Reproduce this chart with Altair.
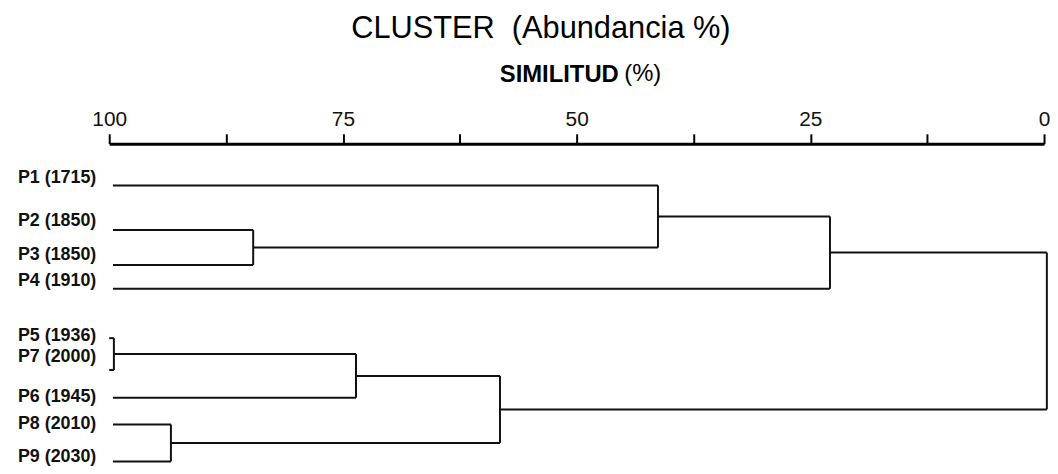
import altair as alt
import pandas as pd

# ---- data ----
leaf_labels = ["P1 (1715)", "P2 (1850)", "P3 (1850)", "P4 (1910)", "P5 (1936)",
               "P7 (2000)", "P6 (1945)", "P8 (2010)", "P9 (2030)"]
leaf_pos = [1.4, 2.9, 4.07, 4.87, 6.53, 7.6, 8.53, 9.43, 10.67]      # vertical order of the leaves
label_pos = [1.15, 2.6, 3.73, 4.6, 6.45, 7.17, 8.5, 9.4, 10.53]      # vertical position of leaf labels
leaf_start = [99.6, 99.6, 99.6, 99.6, 100.0, 100.0, 99.6, 99.6, 99.6]  # similarity where each leaf line starts

# merges: node ids 0-8 are the leaves, 9.. the merges in this order
merge_a = [4, 1, 7, 0, 9, 12, 13, 14]
merge_b = [5, 2, 8, 10, 6, 3, 11, 15]
merge_sim = [99.5, 84.6, 93.4, 41.3, 73.6, 22.9, 58.2, -0.3]

axis_ticks = [0, 12.5, 25, 37.5, 50, 62.5, 75, 87.5, 100]

# ---- build dendrogram segments ----
node_x = list(leaf_start)
node_y = list(leaf_pos)
segs = []
for a, b, s in zip(merge_a, merge_b, merge_sim):
    for c in (a, b):
        segs.append({"x": node_x[c], "x2": s, "y": node_y[c], "y2": node_y[c]})
    segs.append({"x": s, "x2": s, "y": node_y[a], "y2": node_y[b]})
    node_x.append(s)
    node_y.append((node_y[a] + node_y[b]) / 2)
seg_df = pd.DataFrame(segs)

lab_df = pd.DataFrame({"label": leaf_labels, "ly": label_pos})

xscale = alt.Scale(domain=[0, 100], reverse=True, nice=False, zero=False)
yscale = alt.Scale(domain=[0, 11], reverse=True, nice=False, zero=False)

axis = alt.Axis(
    orient="top", values=axis_ticks, format="d",
    labelExpr="datum.value % 25 == 0 ? datum.label : ''",
    domainWidth=3, domainColor="black", tickColor="black", tickWidth=2, tickSize=10,
    labelFont="Liberation Sans", labelFontSize=21, labelColor="#111", labelPadding=4,
    labelFlush=False, labelOverlap=False, grid=False,
    title="SIMILITUD", titleFont="Liberation Sans", titleFontSize=24,
    titleFontWeight="bold", titleColor="black", titleX=453, titleY=-63,
    titleAlign="center", titleBaseline="alphabetic",
)

rules = alt.Chart(seg_df).mark_rule(color="#111", strokeWidth=2).encode(
    x=alt.X("x:Q", scale=xscale, axis=axis),
    x2="x2:Q",
    y=alt.Y("y:Q", scale=yscale, axis=None),
    y2="y2:Q",
)

labels = alt.Chart(lab_df).mark_text(
    align="right", baseline="middle", font="Liberation Sans", fontSize=18,
    fontWeight="bold", color="#111",
).encode(
    x=alt.value(-13),
    y=alt.Y("ly:Q", scale=yscale, axis=None),
    text="label:N",
)

pct = alt.Chart(pd.DataFrame({"t": ["(%)"]})).mark_text(
    align="left", baseline="alphabetic", font="Liberation Sans",
    fontSize=24, color="black",
).encode(x=alt.value(519), y=alt.value(-63), text="t:N")

chart = alt.layer(rules, labels, pct).properties(
    width=942, height=330,
    title=alt.TitleParams("CLUSTER\u00a0 (Abundancia %)", font="Liberation Sans", fontSize=31,
                          fontWeight="normal", color="black", anchor="middle", dx=-36, offset=18),
    autosize=alt.AutoSizeParams(type="none"),
    padding={"left": 102, "top": 135, "right": 6, "bottom": 0},
).configure_view(stroke=None)

chart.save("out.html", embed_options={"renderer": "svg", "actions": False})
